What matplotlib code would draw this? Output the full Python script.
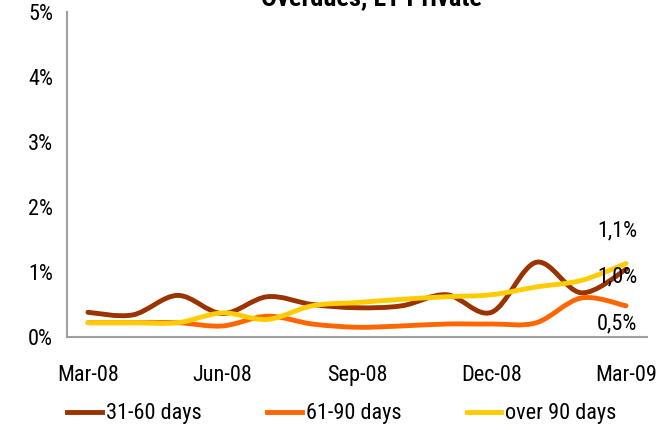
import matplotlib
matplotlib.use("Agg")
import matplotlib.pyplot as plt
from matplotlib.path import Path
from matplotlib.patches import PathPatch
from matplotlib.lines import Line2D
import numpy as np

plt.rcParams['font.family'] = ['Roboto Condensed', 'Archivo Narrow', 'Liberation Sans', 'DejaVu Sans']

months = list(range(13))
tick_pos = [0, 3, 6, 9, 12]
tick_labels = ["Mar-08", "Jun-08", "Sep-08", "Dec-08", "Mar-09"]
s31_60 = [0.38, 0.34, 0.64, 0.36, 0.62, 0.50, 0.45, 0.48, 0.65, 0.38, 1.15, 0.68, 1.04]
s61_90 = [0.22, 0.22, 0.22, 0.17, 0.32, 0.20, 0.15, 0.17, 0.20, 0.20, 0.22, 0.60, 0.48]
s90 = [0.22, 0.22, 0.22, 0.37, 0.27, 0.48, 0.53, 0.58, 0.62, 0.65, 0.77, 0.87, 1.13]
names = ["31-60 days", "61-90 days", "over 90 days"]
colors = ["#993300", "#FF6600", "#FFCC00"]
end_labels = ["1,0%", "0,5%", "1,1%"]
label_offsets = [(-9, -8), (-9, -18), (-9, 33)]  # pixels

FS = 16

fig = plt.figure(figsize=(6.68, 4.30), dpi=100)
ax = fig.add_axes([67/668, (430-337)/430, 580/668, 325/430])


def smooth_path(x, y):
    x = np.asarray(x, float); y = np.asarray(y, float)
    n = len(x)
    verts = [(x[0], y[0])]
    codes = [Path.MOVETO]
    for i in range(n - 1):
        p0 = np.array([x[max(i-1, 0)], y[max(i-1, 0)]])
        p1 = np.array([x[i], y[i]])
        p2 = np.array([x[i+1], y[i+1]])
        p3 = np.array([x[min(i+2, n-1)], y[min(i+2, n-1)]])
        c1 = p1 + (p2 - p0) / 6.0
        c2 = p2 - (p3 - p1) / 6.0
        verts += [tuple(c1), tuple(c2), tuple(p2)]
        codes += [Path.CURVE4] * 3
    return Path(verts, codes)


series = [s31_60, s61_90, s90]
for i in range(3):
    p = smooth_path(months, series[i])
    ax.add_patch(PathPatch(p, facecolor='none', edgecolor=colors[i], lw=3.5,
                           capstyle='round', joinstyle='round', zorder=3 + i))

for i in range(3):
    dx, dy = label_offsets[i]
    ax.annotate(end_labels[i], xy=(months[-1], series[i][-1]),
                xytext=(dx * 0.72, dy * 0.72), textcoords='offset points',
                ha='center', va='center', fontsize=FS, color='black', zorder=10)

ax.set_xlim(-0.468, 12.468)
ax.set_ylim(0, 5)
ax.set_xticks(tick_pos)
ax.set_xticklabels(tick_labels)
ax.set_yticks([0, 1, 2, 3, 4, 5])
ax.set_yticklabels([f"{v}%" for v in range(6)])
ax.tick_params(axis='both', length=0, labelsize=FS)
ax.tick_params(axis='x', pad=20)
ax.tick_params(axis='y', pad=10)
for sp in ['top', 'right']:
    ax.spines[sp].set_visible(False)
for sp in ['left', 'bottom']:
    ax.spines[sp].set_color('#A0A0A0')
    ax.spines[sp].set_linewidth(1.5)

fig.text(372/668, (430-5)/430, "Overdues, LT Private", ha='center', va='baseline',
         fontsize=19, fontweight='bold')

handles = [Line2D([0], [0], color=c, lw=3.5) for c in colors]
fig.legend(handles, names, loc='center', bbox_to_anchor=(342/668, (430-414)/430),
           ncol=3, frameon=False, fontsize=FS, handlelength=1.55,
           handletextpad=0.18, columnspacing=2.95, borderpad=0)

fig.savefig("out.png", dpi=100)
